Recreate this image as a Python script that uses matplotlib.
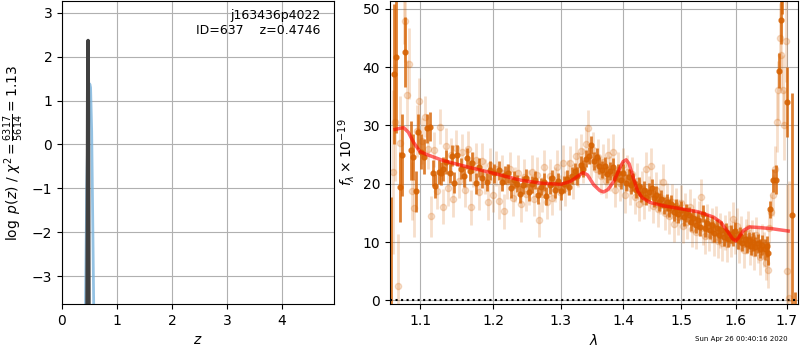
import numpy as np
import matplotlib
matplotlib.use('Agg')
import matplotlib.pyplot as plt
from matplotlib.ticker import FixedLocator, FixedFormatter, NullLocator

# p(z) panel
z_best = [0.455, 0.462, 0.468, 0.4746, 0.480, 0.486, 0.492]
lnp_best = [-4.0, -1.5, 1.2, 2.37, 1.0, -1.5, -4.0]
z_fit = [0.425, 0.450, 0.480, 0.505, 0.520, 0.540, 0.560, 0.580]
lnp_fit = [-4.0, -1.0, 0.9, 1.38, 1.3, 0.3, -1.8, -4.0]

# binned spectrum
wave_b = [1.0622, 1.0666, 1.0695, 1.0738, 1.0767, 1.0810, 1.0879, 1.0909, 1.0952, 1.0974,
          1.1010, 1.1052, 1.1090, 1.1127, 1.1171, 1.1201, 1.1245, 1.1281, 1.1310, 1.1346,
          1.1392, 1.1420, 1.1458, 1.1493, 1.1547, 1.1590, 1.1637, 1.1670, 1.1706, 1.1751,
          1.1800, 1.1843, 1.1913, 1.1950, 1.2007, 1.208, 1.212, 1.217, 1.221, 1.226,
          1.230, 1.234, 1.239, 1.243, 1.248, 1.252, 1.256, 1.261, 1.265, 1.270,
          1.274, 1.278, 1.283, 1.287, 1.291, 1.296, 1.300, 1.305, 1.309, 1.313,
          1.318, 1.322, 1.326, 1.331, 1.335, 1.339, 1.344, 1.348, 1.352, 1.357,
          1.361, 1.365, 1.370, 1.374, 1.378, 1.383, 1.387, 1.391, 1.396, 1.400,
          1.404, 1.409, 1.413, 1.417, 1.422, 1.426, 1.430, 1.435, 1.439, 1.443,
          1.448, 1.452, 1.456, 1.461, 1.465, 1.469, 1.474, 1.478, 1.482, 1.487,
          1.491, 1.495, 1.500, 1.504, 1.508, 1.513, 1.517, 1.521, 1.526, 1.530,
          1.534, 1.539, 1.543, 1.547, 1.552, 1.556, 1.560, 1.565, 1.569, 1.573,
          1.578, 1.582, 1.586, 1.591, 1.595, 1.599, 1.604, 1.608, 1.612, 1.617,
          1.621, 1.625, 1.630, 1.634, 1.638, 1.643, 1.647, 1.651, 1.656, 1.660,
          1.6633, 1.6667, 1.672, 1.6786, 1.685, 1.6877, 1.690, 1.7013, 1.710, 1.7166]
flux_b = [-2.0, 38.8, 41.7, 19.5, 24.9, 42.5, 25.7, 24.6, 18.7, 28.9,
          25.5, 24.6, 29.5, 29.8, 21.8, 19.6, 22.0, 21.8, 22.5, 23.7,
          21.9, 24.8, 20.2, 24.9, 22.6, 21.3, 24.4, 22.2, 23.6, 20.1,
          22.8, 20.9, 20.3, 22.3, 21.8, 22.3, 20.3, 21.5, 21.8, 19.2,
          20.7, 20.0, 18.2, 19.8, 21.0, 18.6, 19.9, 20.6, 18.0, 19.5,
          20.3, 17.9, 19.8, 20.9, 19.0, 20.4, 18.7, 19.9, 20.8, 19.5,
          21.4, 22.1, 21.3, 23.2, 22.6, 24.3, 24.8, 26.6, 23.9, 24.6,
          23.1, 22.4, 23.0, 21.6, 22.2, 22.9, 21.0, 21.8, 20.6, 21.9,
          20.2, 21.1, 19.8, 20.3, 19.0, 19.6, 18.3, 18.9, 17.8, 18.6,
          19.3, 17.5, 18.1, 16.9, 17.4, 16.3, 16.8, 15.8, 16.5, 15.2,
          15.9, 14.8, 15.5, 14.3, 15.0, 14.6, 13.4, 14.2, 13.0, 13.8,
          12.6, 14.9, 12.4, 13.3, 12.0, 12.9, 11.6, 12.5, 11.3, 12.1,
          10.9, 11.7, 10.6, 11.4, 10.8, 11.9, 10.4, 11.1, 9.9, 10.6,
          9.6, 10.3, 9.4, 10.1, 9.2, 9.8, 8.9, 9.5, 8.8, 9.3,
          8.1, 15.6, 20.6, 20.7, 39.4, 48.0, 55.0, 34.0, 14.6, -3.0]
err_b = [19.8, 12.0, 13.0, 6.0, 7.0, 6.0, 5.0, 4.0, 3.5, 3.0,
         3.0, 3.0, 2.5, 2.5, 2.2, 2.0, 2.0, 2.0, 2.0, 2.0,
         1.8, 1.8, 1.8, 1.8, 1.8, 1.8, 1.8, 1.8, 1.8, 1.8,
         1.6, 1.6, 1.6, 1.6, 1.6, 1.6, 1.6, 1.6, 1.6, 1.6,
         1.5, 1.5, 1.5, 1.5, 1.5, 1.5, 1.5, 1.5, 1.5, 1.5,
         1.5, 1.5, 1.5, 1.5, 1.5, 1.5, 1.5, 1.5, 1.5, 1.5,
         1.5, 1.5, 1.5, 1.5, 1.5, 1.5, 1.5, 1.5, 1.5, 1.5,
         1.5, 1.5, 1.5, 1.5, 1.5, 1.5, 1.5, 1.5, 1.5, 1.5,
         1.5, 1.5, 1.5, 1.5, 1.5, 1.5, 1.5, 1.5, 1.5, 1.5,
         1.5, 1.5, 1.5, 1.5, 1.5, 1.5, 1.5, 1.5, 1.5, 1.5,
         1.5, 1.5, 1.5, 1.5, 1.5, 1.5, 1.5, 1.5, 1.5, 1.5,
         1.5, 1.5, 1.5, 1.5, 1.5, 1.5, 1.5, 1.5, 1.5, 1.5,
         1.5, 1.5, 1.5, 1.5, 1.5, 1.5, 1.5, 1.5, 1.5, 1.5,
         1.5, 1.5, 1.6, 1.6, 1.6, 1.6, 1.7, 1.7, 1.8, 1.8,
         2.0, 1.5, 2.0, 2.5, 3.0, 4.0, 6.0, 6.0, 21.0, 4.5]

# unbinned spectrum
wave_u = [1.0650, 1.0680, 1.0715, 1.0745, 1.0790, 1.0800, 1.0830, 1.0860, 1.0890, 1.0920,
          1.0960, 1.0990, 1.1030, 1.1070, 1.1110, 1.1140, 1.1180, 1.1220, 1.1260, 1.1300,
          1.1340, 1.1370, 1.1410, 1.1440, 1.1480, 1.1520, 1.1560, 1.1600, 1.1640, 1.1680,
          1.1720, 1.1760, 1.1800, 1.1840, 1.1880, 1.1920, 1.1960, 1.2000, 1.2040, 1.2080,
          1.2120, 1.2160, 1.2200, 1.2240, 1.2280, 1.2320, 1.2360, 1.2400, 1.2440, 1.2480,
          1.2520, 1.2560, 1.2600, 1.2640, 1.2675, 1.2710, 1.2750, 1.2790, 1.2830, 1.2870,
          1.2910, 1.2950, 1.2990, 1.3030, 1.3070, 1.3110, 1.3150, 1.3190, 1.3230, 1.3270,
          1.3310, 1.3350, 1.3390, 1.3430, 1.3470, 1.3510, 1.3550, 1.3590, 1.3630, 1.3670,
          1.3710, 1.3750, 1.3790, 1.3830, 1.3870, 1.3910, 1.3950, 1.3990, 1.4030, 1.4070,
          1.4110, 1.4150, 1.4190, 1.4230, 1.4270, 1.4310, 1.4350, 1.4390, 1.4430, 1.4470,
          1.4510, 1.4550, 1.4590, 1.4630, 1.4670, 1.4710, 1.4750, 1.4790, 1.4830, 1.4870,
          1.4910, 1.4950, 1.4990, 1.5030, 1.5070, 1.5110, 1.5150, 1.5190, 1.5230, 1.5270,
          1.5310, 1.5350, 1.5390, 1.5430, 1.5470, 1.5510, 1.5550, 1.5590, 1.5630, 1.5670,
          1.5710, 1.5750, 1.5790, 1.5830, 1.5870, 1.5910, 1.5950, 1.5990, 1.6030, 1.6070,
          1.6110, 1.6150, 1.6190, 1.6230, 1.6270, 1.6310, 1.6350, 1.6390, 1.6430, 1.6470,
          1.6510, 1.6550, 1.6590, 1.6620, 1.6650, 1.6690, 1.6720, 1.6760, 1.6800, 1.6830,
          1.6860, 1.6890, 1.6920, 1.6950, 1.6980, 1.7010, 1.7050]
flux_u = [22.0, 30.5, 2.4, 27.0, 52.0, 47.9, 35.2, 40.6, 18.8, 15.8,
          29.0, 34.2, 27.3, 31.5, 26.0, 14.4, 25.8, 18.7, 29.8, 16.1,
          26.5, 19.2, 24.9, 17.3, 26.2, 20.5, 25.5, 19.0, 26.0, 16.0,
          22.5, 24.0, 18.5, 23.9, 21.3, 16.8, 23.2, 18.1, 22.6, 17.0,
          21.9, 15.3, 20.4, 22.5, 17.5, 19.8, 21.9, 16.5, 21.2, 18.3,
          19.4, 22.0, 17.4, 21.5, 13.8, 18.2, 22.8, 16.9, 21.3, 17.6,
          19.9, 22.8, 18.5, 23.6, 19.2, 21.0, 23.5, 20.4, 24.8, 22.4,
          25.6, 23.1, 26.8, 29.6, 24.0, 25.8, 22.5, 24.6, 21.3, 23.8,
          20.5, 24.9, 21.7, 25.5, 19.0, 22.4, 20.1, 23.2, 18.0, 22.0,
          19.3, 21.6, 17.8, 20.5, 16.6, 19.2, 17.0, 22.5, 18.3, 23.1,
          16.2, 19.0, 15.6, 17.8, 20.3, 15.0, 17.2, 14.4, 16.9, 13.1,
          16.2, 14.3, 16.7, 12.8, 15.4, 13.5, 16.1, 12.2, 14.6, 11.8,
          14.0, 17.8, 12.5, 11.0, 13.6, 11.4, 12.9, 10.6, 13.2, 10.2,
          12.0, 9.8, 11.6, 9.6, 12.3, 10.4, 13.9, 11.0, 12.8, 9.4,
          11.5, 8.6, 10.9, 12.4, 9.0, 10.8, 8.2, 11.3, 9.5, 7.4,
          10.1, 8.7, 6.5, 5.2, 12.5, 15.2, 18.0, 22.5, 30.5, 36.0,
          45.0, 42.0, 36.0, 30.0, 44.5, 5.0, 0.5]
err_u = [14.0, 10.0, 9.0, 8.0, 8.0, 7.0, 6.0, 6.0, 5.0, 5.0,
         4.5, 4.0, 4.0, 3.5, 3.5, 3.5, 3.0, 3.0, 3.0, 3.0,
         3.0, 3.0, 3.0, 3.0, 3.0, 3.0, 3.0, 3.0, 3.0, 3.0,
         3.0, 3.0, 3.0, 3.0, 3.0, 3.0, 3.0, 3.0, 3.0, 3.0,
         3.0, 3.0, 3.0, 3.0, 3.0, 3.0, 3.0, 3.0, 3.0, 3.0,
         3.0, 3.0, 3.0, 3.0, 3.0, 3.0, 3.0, 3.0, 3.0, 3.0,
         3.0, 3.0, 3.0, 3.0, 3.0, 3.0, 3.0, 3.0, 3.0, 3.0,
         3.0, 3.0, 3.0, 3.0, 3.0, 3.0, 3.0, 3.0, 3.0, 3.0,
         3.0, 3.0, 3.0, 3.0, 3.0, 3.0, 3.0, 3.0, 3.0, 3.0,
         3.0, 3.0, 3.0, 3.0, 3.0, 3.0, 3.0, 3.0, 3.0, 3.0,
         3.0, 3.0, 3.0, 3.0, 3.0, 3.0, 3.0, 3.0, 3.0, 3.0,
         3.0, 3.0, 3.0, 3.0, 3.0, 3.0, 3.0, 3.0, 3.0, 3.0,
         3.0, 3.0, 3.0, 3.0, 3.0, 3.0, 3.0, 3.0, 3.0, 3.0,
         3.0, 3.0, 3.0, 3.0, 3.0, 3.0, 3.0, 3.0, 3.0, 3.0,
         3.0, 3.0, 3.0, 3.0, 3.0, 3.0, 3.0, 3.0, 3.0, 3.0,
         3.0, 3.0, 3.0, 3.0, 3.0, 3.0, 3.5, 4.0, 5.0, 5.0,
         6.0, 6.0, 6.0, 6.0, 7.0, 15.0, 20.0]

# best-fit model
model_wave = [1.068, 1.074, 1.079, 1.085, 1.092, 1.100, 1.109, 1.130, 1.160, 1.200,
              1.240, 1.270, 1.300, 1.315, 1.328, 1.335, 1.342, 1.352, 1.362, 1.368,
              1.375, 1.385, 1.395, 1.400, 1.405, 1.410, 1.417, 1.424, 1.432, 1.445,
              1.470, 1.500, 1.530, 1.558, 1.572, 1.585, 1.594, 1.600, 1.606, 1.615,
              1.627, 1.645, 1.670, 1.703]
model_flux = [29.3, 29.5, 29.6, 28.8, 27.0, 25.5, 25.0, 24.0, 23.0, 21.8,
              20.6, 20.1, 19.9, 20.4, 21.4, 21.9, 21.5, 19.8, 18.8, 18.6,
              19.0, 20.5, 22.8, 23.8, 24.1, 23.4, 21.0, 18.8, 17.6, 16.8,
              16.2, 15.7, 15.2, 14.3, 13.4, 11.8, 10.6, 10.2, 10.8, 12.0,
              12.6, 12.5, 12.3, 11.9]

wave_ticks = [1.1, 1.2, 1.3, 1.4, 1.5, 1.6, 1.7]
grism_color = (0.84, 0.38, 0.0)

fig = plt.figure(figsize=(8, 3.5), dpi=100)
ax1 = fig.add_axes([0.0775, 0.131, 0.34, 0.866])
ax2 = fig.add_axes([0.4875, 0.131, 0.51, 0.866])

ax1.plot(z_fit, lnp_fit, color='#7ab3dd', alpha=0.8, lw=2)
ax1.plot(z_best, lnp_best, color='0.25', lw=2.5)
ax1.set_xlim(0, 4.95)
ax1.set_ylim(-3.64, 3.27)
ax1.set_xlabel('$z$')
ax1.set_ylabel(r'$\log\ p(z)$ / $\chi^2=\frac{6317}{5614}=1.13$')
ax1.text(0.95, 0.975, 'j163436p4022\nID=637    z=0.4746', transform=ax1.transAxes,
         ha='right', va='top', fontsize=9)
ax1.grid()

ax2.errorbar(wave_u, flux_u, yerr=err_u, color=grism_color, alpha=0.2,
             marker='o', ms=4.5, linestyle='None', elinewidth=2)
ax2.errorbar(wave_b, flux_b, yerr=err_b, color=grism_color, alpha=0.8,
             marker='o', ms=3.5, linestyle='None', elinewidth=2)
ax2.plot(model_wave, model_flux, color='r', alpha=0.6, lw=2.5, zorder=10)
ax2.axhline(0, color='k', linestyle=':', lw=1.5)
ax2.set_xscale('log')
ax2.set_xlim(1.0615, 1.7229)
ax2.set_ylim(-0.63, 51.3)
ax2.xaxis.set_major_locator(FixedLocator(wave_ticks))
ax2.xaxis.set_major_formatter(FixedFormatter([str(t) for t in wave_ticks]))
ax2.xaxis.set_minor_locator(NullLocator())
ax2.set_xlabel(r'$\lambda$')
ax2.set_ylabel(r'$f_\lambda\times10^{-19}$')
ax2.grid()

fig.text(0.985, 0.024, 'Sun Apr 26 00:40:16 2020', ha='right', va='bottom', fontsize=5)

fig.savefig('out.png', dpi=100)
